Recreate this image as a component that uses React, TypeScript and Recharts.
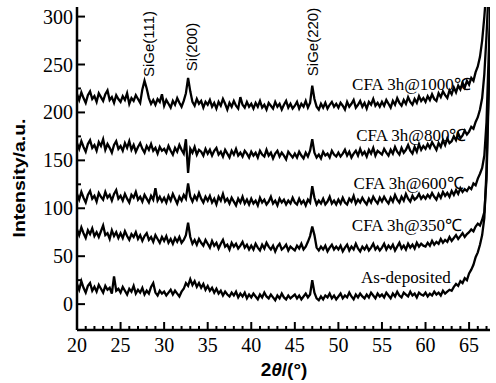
import { LineChart, Line, XAxis, YAxis, ReferenceDot } from "recharts";

// 2θ grid, 0.25° step from 20 to 67.5 (191 points)
const twoTheta: number[] = Array.from({ length: 191 }, (_, i) => 20 + i * 0.25);

const cfa1000 = [
  219, 213, 221, 215, 210, 218, 222, 214, 217, 211, 220, 216, 212, 219, 223, 213, 216, 210, 218, 214,
  211, 217, 213, 220, 209, 215, 212, 218, 214, 210, 224, 233, 225, 215, 209, 213, 208, 214, 211, 219,
  207, 213, 209, 205, 212, 208, 215, 210, 206, 212, 220, 236, 222, 211, 207, 214, 209, 212, 205, 211,
  208, 213, 206, 210, 204, 211, 207, 214, 209, 203, 210, 206, 212, 207, 204, 216, 208, 205, 211, 206,
  209, 204, 210, 206, 212, 205, 208, 203, 210, 207, 204, 211, 206, 209, 203, 208, 212, 205, 209, 204,
  207, 211, 204, 209, 206, 212, 205, 210, 228, 214, 206, 203, 209, 205, 210, 204, 208, 211, 206, 209,
  205, 210, 207, 203, 211, 206, 209, 213, 205, 208, 212, 206, 210, 204, 211, 208, 214, 207, 210, 206,
  211, 207, 213, 209, 205, 212, 208, 215, 210, 207, 213, 209, 216, 211, 208, 214, 210, 217, 212, 215,
  211, 217, 213, 219, 214, 212, 220, 216, 222, 218, 215, 223, 219, 226, 221, 228, 224, 231, 226, 233,
  229, 236, 233, 242, 248, 258, 275, 300, 330, 350, 360,
];
const cfa800 = [
  168, 162, 170, 164, 159, 167, 171, 163, 166, 160, 169, 165, 172, 161, 167, 163, 158, 166, 170, 162,
  165, 160, 168, 163, 170, 161, 166, 159, 164, 168, 162, 158, 165, 161, 167, 160, 163, 157, 164, 160,
  162, 158, 165, 160, 156, 163, 159, 166, 161, 157, 172, 137, 162, 158, 164, 156, 161, 159, 155, 162,
  157, 161, 155, 160, 163, 156, 159, 154, 161, 157, 153, 160, 156, 162, 155, 158, 154, 160, 157, 153,
  159, 155, 158, 153, 160, 156, 154, 161, 155, 158, 152, 157, 160, 154, 158, 155, 151, 159, 156, 153,
  157, 153, 159, 155, 152, 158, 154, 160, 172, 158, 153, 156, 152, 159, 155, 157, 153, 160, 156, 154,
  158, 154, 157, 161, 155, 159, 153, 157, 160, 155, 162, 156, 159, 154, 161, 157, 163, 155, 160, 158,
  156, 162, 158, 155, 161, 157, 164, 159, 156, 163, 158, 161, 166, 160, 157, 164, 159, 167, 161, 165,
  162, 167, 163, 169, 165, 161, 168, 164, 171, 166, 173, 168, 170, 175, 171, 178, 173, 176, 181, 177,
  180, 185, 183, 190, 195, 203, 215, 240, 280, 330, 350,
];
const cfa600 = [
  115, 109, 117, 111, 106, 114, 118, 110, 113, 107, 116, 112, 109, 117, 111, 114, 108, 115, 119, 110,
  113, 108, 115, 110, 106, 114, 111, 117, 109, 112, 107, 114, 110, 106, 113, 109, 121, 108, 112, 107,
  111, 106, 113, 108, 115, 110, 105, 112, 108, 114, 110, 126, 112, 107, 113, 109, 116, 110, 106, 112,
  108, 113, 106, 110, 104, 112, 108, 115, 107, 110, 105, 111, 107, 103, 110, 106, 112, 105, 109, 104,
  110, 105, 108, 103, 111, 106, 109, 104, 107, 112, 105, 108, 103, 110, 106, 109, 104, 108, 105, 111,
  106, 104, 110, 105, 108, 103, 109, 106, 123, 111, 104, 108, 105, 110, 104, 107, 112, 105, 108, 104,
  109, 105, 111, 106, 104, 110, 107, 113, 105, 109, 106, 111, 107, 104, 110, 106, 112, 108, 105, 111,
  107, 112, 108, 105, 111, 107, 114, 109, 106, 112, 108, 115, 110, 107, 113, 109, 111, 115, 110, 113,
  110, 114, 111, 116, 112, 109, 115, 111, 117, 113, 116, 112, 118, 114, 119, 115, 121, 117, 120, 118,
  122, 120, 126, 124, 131, 136, 142, 155, 190, 260, 330,
];
const cfa350 = [
  78, 72, 80, 74, 69, 77, 73, 79, 71, 75, 70, 76, 82, 72, 74, 68, 77, 71, 75, 69,
  74, 69, 76, 71, 67, 73, 70, 75, 68, 72, 66, 71, 74, 67, 70, 65, 72, 68, 64, 70,
  66, 71, 64, 68, 63, 69, 65, 70, 64, 67, 72, 85, 70, 63, 67, 62, 68, 64, 61, 67,
  63, 59, 66, 61, 64, 58, 63, 67, 60, 62, 57, 64, 60, 63, 58, 61, 65, 59, 62, 57,
  61, 57, 63, 59, 56, 62, 58, 64, 60, 57, 61, 55, 60, 63, 57, 59, 62, 56, 60, 58,
  56, 61, 58, 63, 57, 60, 65, 71, 81, 72, 59, 56, 60, 57, 61, 55, 59, 62, 57, 60,
  57, 61, 55, 59, 62, 56, 60, 57, 63, 58, 55, 60, 57, 61, 56, 59, 63, 57, 60, 56,
  59, 63, 57, 61, 58, 62, 56, 60, 64, 58, 61, 57, 63, 59, 62, 58, 64, 60, 63, 61,
  60, 64, 61, 66, 62, 65, 63, 68, 64, 67, 65, 70, 66, 69, 72, 68, 71, 74, 70, 73,
  75, 78, 76, 81, 84, 82, 88, 96, 130, 220, 320,
];
const asDeposited = [
  21, 15, 24, 17, 12, 19, 22, 14, 18, 13, 20, 16, 12, 19, 15, 17, 11, 29, 14, 16,
  12, 18, 14, 10, 16, 13, 19, 11, 15, 12, 17, 10, 14, 11, 18, 22, 12, 9, 14, 11,
  13, 9, 12, 15, 10, 14, 11, 8, 13, 16, 22, 19, 26, 20, 24, 18, 22, 17, 21, 15,
  19, 14, 17, 12, 16, 11, 14, 9, 13, 10, 8, 12, 9, 13, 7, 11, 8, 12, 6, 10,
  7, 11, 8, 5, 10, 7, 12, 8, 6, 10, 7, 4, 9, 6, 11, 7, 5, 9, 6, 8,
  10, 6, 9, 5, 8, 11, 7, 10, 25, 12, 6, 4, 8, 5, 9, 7, 11, 6, 9, 5,
  8, 11, 6, 9, 7, 12, 8, 5, 10, 7, 11, 8, 6, 10, 7, 12, 9, 6, 11, 8,
  10, 7, 12, 9, 6, 11, 8, 13, 9, 7, 12, 10, 8, 13, 9, 11, 7, 12, 10, 9,
  12, 8, 11, 9, 13, 10, 12, 9, 14, 11, 13, 15, 14, 18, 21, 19, 24, 22, 27, 25,
  32, 36, 41, 49, 54, 62, 72, 90, 140, 230, 320,
];

const xTicks = Array.from({ length: 48 }, (_, i) => 20 + i);
const yTicks = [0, 25, 50, 75, 100, 125, 150, 175, 200, 225, 250, 275, 300];

const peakLabels = ["SiGe(111)", "Si(200)", "SiGe(220)"];
const curveLabels = [
  { text: "CFA 3h@1000℃", x: 65.2, y: 229 },
  { text: "CFA 3h@800℃", x: 64.7, y: 176 },
  { text: "CFA 3h@600℃", x: 64.4, y: 126 },
  { text: "CFA 3h@350℃", x: 64.2, y: 82 },
  { text: "As-deposited", x: 62.9, y: 28 },
];

const series = [cfa1000, cfa800, cfa600, cfa350, asDeposited];

const data = twoTheta.map((t, i) => {
  const row: Record<string, number> = { t };
  series.forEach((s, k) => {
    row[`s${k}`] = s[i];
  });
  return row;
});

const SERIF = "'Liberation Serif', 'Times New Roman', serif";
const SANS = "'Liberation Sans', Arial, sans-serif";

// centres of the vertical peak names, in page pixels
const peakPos = [
  [148, 44],
  [191, 47],
  [312, 42],
];

function XTick(props: any) {
  const { x, y, payload } = props;
  const major = payload.value % 5 === 0;
  return (
    <g>
      <line x1={x} x2={x} y1={y} y2={y - (major ? 8 : 4)} stroke="#000" strokeWidth={2} />
      {major && (
        <text x={x} y={y + 22} textAnchor="middle" fontSize={20} fontFamily={SERIF} fill="#000">
          {payload.value}
        </text>
      )}
    </g>
  );
}

function YTick(props: any) {
  const { x, y, payload } = props;
  const major = payload.value % 50 === 0;
  return (
    <g>
      <line x1={x} x2={x + (major ? 8 : 4)} y1={y} y2={y} stroke="#000" strokeWidth={2} />
      {major && (
        <text x={x - 4} y={y + 7} textAnchor="end" fontSize={20} fontFamily={SERIF} fill="#000">
          {payload.value}
        </text>
      )}
    </g>
  );
}

function CurveLabel(props: any) {
  const { viewBox, text } = props;
  return (
    <text
      x={viewBox.x}
      y={viewBox.y}
      textAnchor="end"
      dominantBaseline="central"
      fontSize={17}
      fontFamily={SERIF}
      fill="#000"
    >
      {text}
    </text>
  );
}

export default function App() {
  return (
    <div style={{ position: "absolute", left: 0, top: 0, width: 496, height: 383, background: "#fff" }}>
      <LineChart
        width={496}
        height={383}
        data={data}
        margin={{ top: 7, right: 6, left: 17, bottom: 23 }}
      >
        <XAxis
          dataKey="t"
          type="number"
          domain={[20, 67.4]}
          allowDataOverflow
          ticks={xTicks}
          interval={0}
          tickSize={0}
          tickMargin={0}
          tick={<XTick />}
          axisLine={{ stroke: "#000", strokeWidth: 2.5 }}
          height={30}
        />
        <XAxis
          xAxisId="top"
          orientation="top"
          dataKey="t"
          type="number"
          domain={[20, 67.4]}
          allowDataOverflow
          tick={false}
          tickLine={false}
          height={0}
          axisLine={{ stroke: "#000", strokeWidth: 2.5 }}
        />
        <YAxis
          type="number"
          domain={[-27, 310]}
          allowDataOverflow
          ticks={yTicks}
          interval={0}
          tickSize={0}
          tickMargin={0}
          tick={<YTick />}
          axisLine={{ stroke: "#000", strokeWidth: 2.5 }}
          width={60}
        />
        <YAxis
          yAxisId="right"
          orientation="right"
          type="number"
          domain={[-27, 310]}
          tick={false}
          tickLine={false}
          width={0}
          axisLine={{ stroke: "#000", strokeWidth: 2.5 }}
        />
        {series.map((_, k) => (
          <Line
            key={k}
            dataKey={`s${k}`}
            type="linear"
            stroke="#000"
            strokeWidth={2.3}
            dot={false}
            isAnimationActive={false}
          />
        ))}
        {curveLabels.map((c) => (
          <ReferenceDot
            key={c.text}
            x={c.x}
            y={c.y}
            r={0}
            fill="none"
            stroke="none"
            label={<CurveLabel text={c.text} />}
          />
        ))}
      </LineChart>
      <svg
        width={496}
        height={383}
        style={{ position: "absolute", left: 0, top: 0, pointerEvents: "none" }}
      >
        {peakLabels.map((t, i) => {
          const [px, py] = peakPos[i];
          return (
            <text
              key={t}
              x={px}
              y={py}
              transform={`rotate(-90, ${px}, ${py})`}
              textAnchor="middle"
              dominantBaseline="central"
              fontSize={15}
              fontFamily={SANS}
              fill="#000"
            >
              {t}
            </text>
          );
        })}
        <text
          x={25}
          y={178}
          transform="rotate(-90, 25, 178)"
          textAnchor="middle"
          fontSize={17}
          fontWeight="bold"
          fontFamily={SANS}
          textLength={119}
          lengthAdjust="spacingAndGlyphs"
          fill="#000"
        >
          Intensity/a.u.
        </text>
        <text x={284} y={376} textAnchor="middle" fontSize={19} fontWeight="bold" fontFamily={SANS} fill="#000">
          2<tspan fontStyle="italic">θ</tspan>/(°)
        </text>
      </svg>
    </div>
  );
}
